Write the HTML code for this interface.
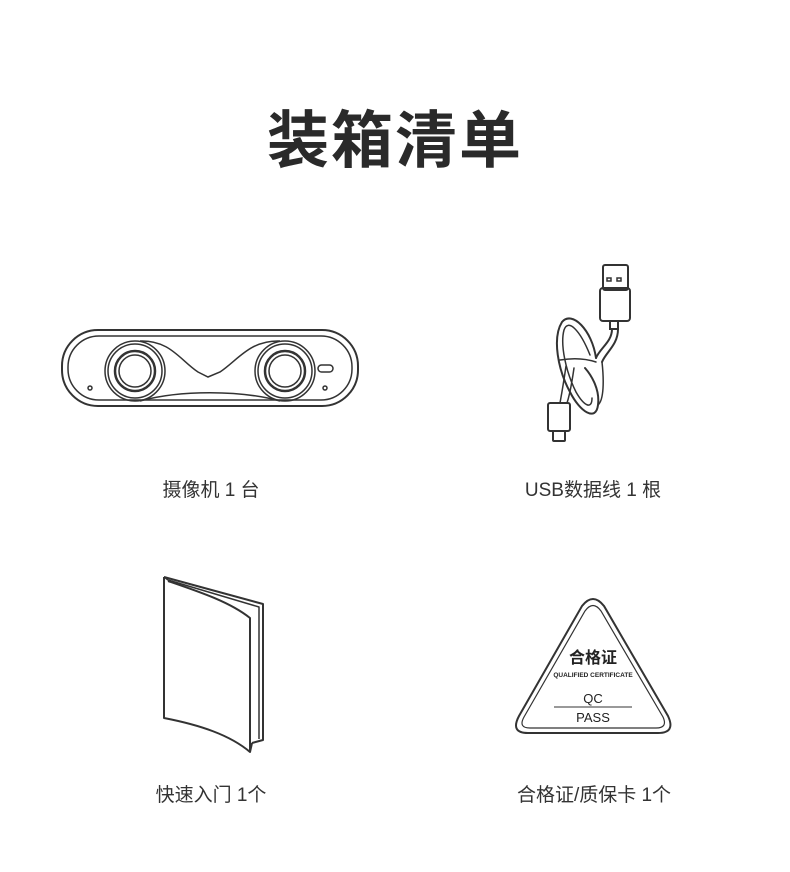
<!DOCTYPE html>
<html><head><meta charset="utf-8"><style>
body{margin:0;background:#fff;}
.w{position:relative;width:790px;height:872px;overflow:hidden;font-family:"Liberation Sans","Noto Sans CJK SC",sans-serif;color:#333;}
.t{position:absolute;left:0;width:790px;top:90px;text-align:center;font-size:62px;font-weight:bold;color:#2a2a2a;letter-spacing:2px;}
.l{position:absolute;font-size:19px;text-align:center;width:300px;color:#333;}
svg{position:absolute;left:0;top:0;}
</style></head><body><div class="w">
<div class="t">装箱清单</div>
<svg width="790" height="872" fill="none" stroke="#333" stroke-width="2">
<!-- camera -->
<rect x="62" y="330" width="296" height="76" rx="36"/>
<rect x="68" y="336" width="284" height="64" rx="31" stroke-width="1.5"/>
<g stroke-width="1.5">
<circle cx="135" cy="371" r="30"/><circle cx="135" cy="371" r="27"/>
<circle cx="135" cy="371" r="20" stroke-width="2.5"/><circle cx="135" cy="371" r="16"/>
<circle cx="285" cy="371" r="30"/><circle cx="285" cy="371" r="27"/>
<circle cx="285" cy="371" r="20" stroke-width="2.5"/><circle cx="285" cy="371" r="16"/>
<path d="M140 341 C170 340 180 360 198 372 L208 377 L220 372 C238 360 250 340 280 341"/>
<path d="M140 401 C180 390 240 390 280 401"/>
<circle cx="90" cy="388" r="2"/><circle cx="325" cy="388" r="2"/>
<rect x="318" y="365" width="15" height="7" rx="3.5"/>
</g>
<!-- cable -->
<g stroke-width="2" stroke-linecap="round">
<rect x="603" y="265" width="25" height="25" rx="2"/>
<rect x="607" y="278" width="4" height="3" stroke-width="1.5"/><rect x="617" y="278" width="4" height="3" stroke-width="1.5"/>
<rect x="600" y="288" width="30" height="33" rx="3"/>
<path d="M610 321 v8 h8 v-8"/>
<path d="M612 329 C612 342 600 348 596 358"/>
<path d="M618 329 C618 345 606 352 602 362"/>
<path d="M596 358 C592 330 572 310 562 322 C552 338 558 370 570 392 C580 412 596 422 598 405 C600 390 592 376 585 368"/>
<path d="M602 362 C604 380 604 400 598 405" stroke-width="1.5"/>
<path d="M590 355 C580 330 568 318 564 330 C560 345 566 372 576 392 C584 406 592 410 592 398" stroke-width="1.5"/>
<path d="M560 360 C572 358 584 358 596 362" stroke-width="1.5"/>
<path d="M566 366 C564 380 562 392 560 403 M574 368 C572 382 570 394 567 403" stroke-width="1.5"/>
<rect x="548" y="403" width="22" height="28" rx="2"/>
<rect x="553" y="431" width="12" height="10" rx="1"/>
</g>
<!-- book -->
<g stroke-width="2" stroke-linejoin="round">
<path d="M164 577 L263 604 L263 740 L252 743"/>
<path d="M164 577 L168 580 L259 607 L259 739" stroke-width="1.5"/>
<path d="M168 581 C200 592 230 602 250 618 L250 752 C230 735 200 725 164 718 L164 577"/>
<path d="M250 752 L252 743" />
</g>
<!-- triangle -->
<path d="M582 606 Q593 592 604 606 L668 716 Q676 733 658 733 L528 733 Q510 733 519 716 Z" stroke-width="2"/>
<path d="M585 611 Q593 600 601 611 L663 717 Q668 728 656 728 L530 728 Q518 728 524 717 Z" stroke-width="1.2"/>
<line x1="554" y1="707" x2="632" y2="707" stroke-width="1"/>
</svg>
<svg width="790" height="872">
<g font-family="Liberation Sans,Noto Sans CJK SC,sans-serif" fill="#222" text-anchor="middle">
<text x="593" y="663" font-size="16" font-weight="bold">合格证</text>
<text x="593" y="677" font-size="6.5" font-weight="bold">QUALIFIED CERTIFICATE</text>
<text x="593" y="703" font-size="13">QC</text>
<text x="593" y="722" font-size="13">PASS</text>
</g></svg>
<div class="l" style="left:61px;top:475px">摄像机 1 台</div>
<div class="l" style="left:443px;top:475px">USB数据线 1 根</div>
<div class="l" style="left:61px;top:780px">快速入门 1个</div>
<div class="l" style="left:444px;top:780px">合格证/质保卡 1个</div>
</div></body></html>
